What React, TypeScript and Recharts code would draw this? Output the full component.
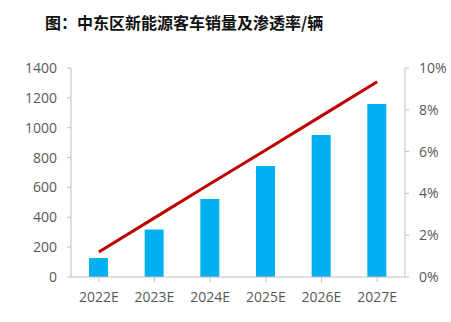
import { Bar, ComposedChart, Line, XAxis, YAxis } from 'recharts'

const years = ['2022E', '2023E', '2024E', '2025E', '2026E', '2027E']
const sales = [127, 318, 522, 743, 951, 1159]
const penetration = [1.2, 2.83, 4.46, 6.08, 7.71, 9.34]
const leftTicks = [0, 200, 400, 600, 800, 1000, 1200, 1400]
const rightTicks = [0, 2, 4, 6, 8, 10]

const data = years.map((y, i) => ({ year: y, sales: sales[i], rate: penetration[i] }))

const FONT = '"Open Sans", "Noto Sans", sans-serif'
const tick = { fontSize: 14, fill: '#595959', fontFamily: FONT }

export default function App() {
  return (
    <div style={{ position: 'absolute', left: 0, top: 0, width: 451, height: 322, background: '#fff' }}>
      <div style={{
        position: 'absolute', left: 45, top: 10, fontFamily: '"Noto Sans CJK SC", sans-serif', fontWeight: 700,
        fontSize: 16, color: '#111', whiteSpace: 'nowrap',
      }}>
        图：中东区新能源客车销量及渗透率/辆
      </div>
      <ComposedChart width={451} height={322} data={data}
        margin={{ top: 68, right: 6, left: 11, bottom: 5 }}>
        <XAxis dataKey="year" tick={{ ...tick, dy: 8 }} stroke="#bfbfbf" tickLine={{ stroke: '#bfbfbf' }}
          tickSize={5} height={40} interval={0} />
        <YAxis yAxisId="l" domain={[0, 1400]} ticks={leftTicks} tick={{ ...tick, dx: -8 }} stroke="#bfbfbf"
          tickSize={4} width={60} interval={0} />
        <YAxis yAxisId="r" orientation="right" domain={[0, 10]} ticks={rightTicks} tick={{ ...tick, dx: 8 }}
          tickFormatter={(v: number) => `${v}%`} stroke="#bfbfbf" tickSize={4} width={40} interval={0} />
        <Bar yAxisId="l" dataKey="sales" fill="#00b0f0" barSize={19} isAnimationActive={false} />
        <Line yAxisId="r" dataKey="rate" stroke="#c00000" strokeWidth={3} dot={false}
          type="linear" isAnimationActive={false} />
      </ComposedChart>
    </div>
  )
}
